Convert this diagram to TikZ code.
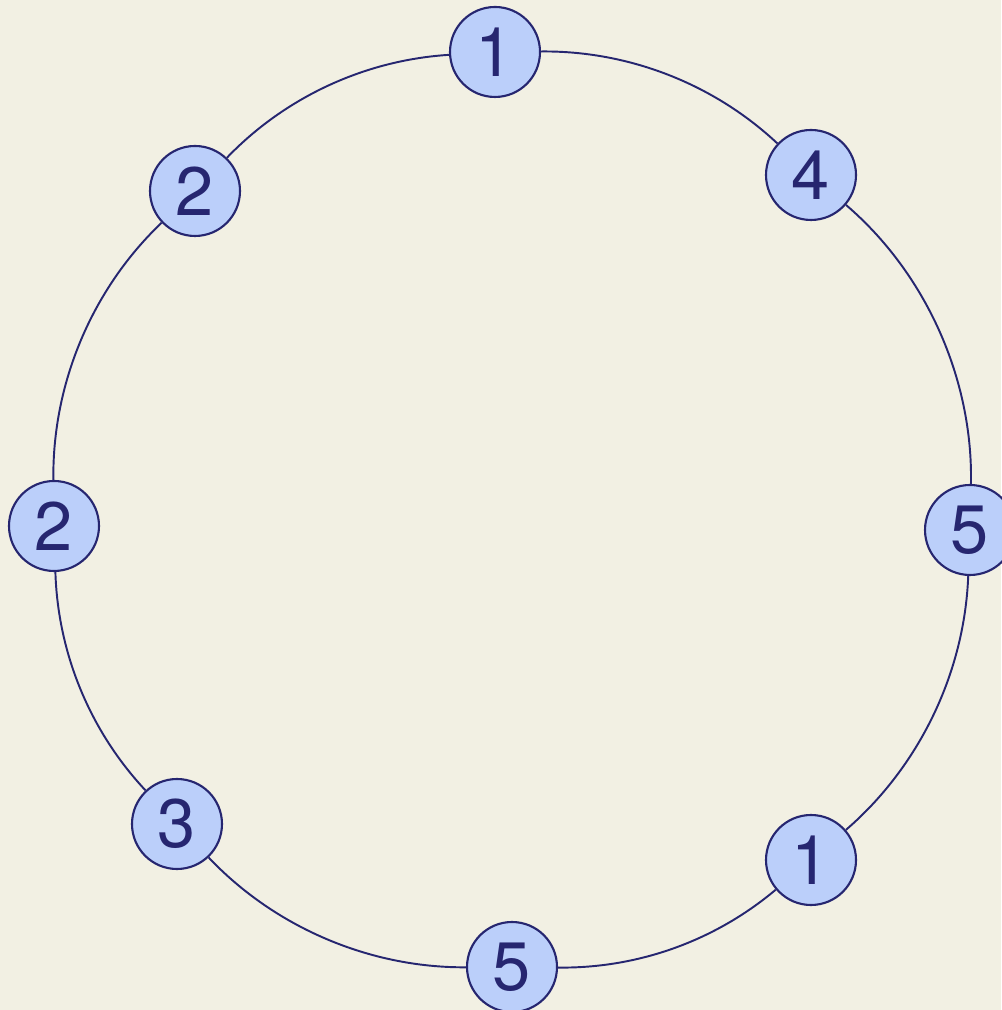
\documentclass[tikz,border=0pt]{standalone}
\usepackage{fontspec}
\setmainfont{TeX Gyre Heros}
\definecolor{ink}{RGB}{38,38,112}
\definecolor{bead}{RGB}{187,207,250}
\definecolor{paper}{RGB}{242,240,227}
\usepackage{tikz}
\usetikzlibrary{positioning}
\tikzset{
  bead/.style={circle, draw=ink, line width=0.6pt, fill=bead, text=ink,
              minimum size=9mm, inner sep=0pt, font=\fontsize{19.5}{20}\selectfont},
  link/.style={draw=ink, line width=0.55pt, looseness=0.88},
}
\begin{document}
\begin{tikzpicture}[x=0.1mm, y=0.1mm]
        \fill[paper] (0,0) rectangle (1001,1010);
        \useasboundingbox (0,0) rectangle (1001,1010);
        \node[bead] (ta) at (495,958) {1};
        \node[bead] (tb) at (811,835) {4};
        \node[bead] (tc) at (970,480) {5};
        \node[bead] (td) at (811,150) {1};
        \node[bead] (te) at (512,43)  {5};
        \node[bead] (tf) at (177,186) {3};
        \node[bead] (tg) at (54,484)  {2};
        \node[bead] (th) at (195,819) {2};
        \path[link] (ta) to[bend left=21.9] (tb)
                    (tb) to[bend left=25.3] (tc)
                    (tc) to[bend left=23.5] (td)
                    (td) to[bend left=20.4] (te)
                    (te) to[bend left=23.5] (tf)
                    (tf) to[bend left=20.7] (tg)
                    (tg) to[bend left=23.6] (th)
                    (th) to[bend left=21.3] (ta);
      \end{tikzpicture}
\end{document}
